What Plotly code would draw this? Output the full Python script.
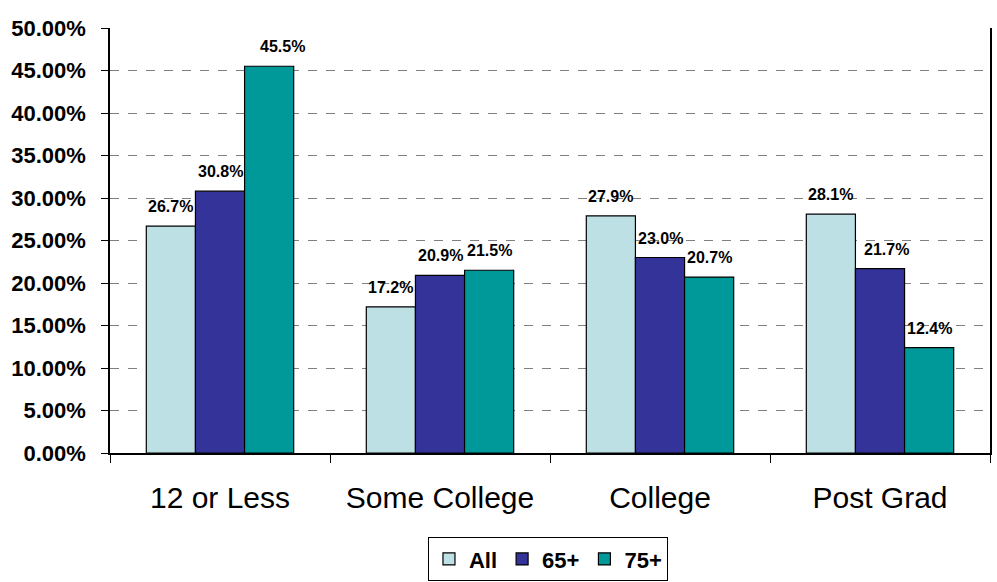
import plotly.graph_objects as go

categories = ["12 or Less", "Some College", "College", "Post Grad"]
series_names = ["All", "65+", "75+"]
all_vals = [26.7, 17.2, 27.9, 28.1]
age65_vals = [30.8, 20.9, 23.0, 21.7]
age75_vals = [45.5, 21.5, 20.7, 12.4]
colors = ["#BCE0E3", "#333399", "#009999"]
y_ticks = [0, 5, 10, 15, 20, 25, 30, 35, 40, 45, 50]

BARGAP = 0.33
series = [all_vals, age65_vals, age75_vals]
n_series = len(series)
bar_w = (1 - BARGAP) / n_series

# a couple of value labels sit nudged to the right of their bar
label_nudge = {(2, 0): 13, (1, 3): 6}

fig = go.Figure()
for name, vals, col in zip(series_names, series, colors):
    fig.add_trace(go.Bar(
        name=name,
        x=categories,
        y=vals,
        marker=dict(color=col, line=dict(color="black", width=1.2)),
    ))

# value labels above each bar, placed on the category axis
annotations = []
for s, vals in enumerate(series):
    offset = (s - (n_series - 1) / 2) * bar_w
    for c, v in enumerate(vals):
        annotations.append(dict(
            x=c + offset, y=v, xref="x", yref="y",
            text=f"{v:.1f}%", showarrow=False,
            yanchor="bottom", yshift=9,
            xshift=label_nudge.get((s, c), 0),
            font=dict(family="Arial", size=16, color="black", weight="bold"),
        ))

fig.update_layout(
    width=997, height=582,
    barmode="group",
    bargap=BARGAP,
    bargroupgap=0,
    plot_bgcolor="white",
    paper_bgcolor="white",
    margin=dict(l=110, r=7, t=28, b=129, autoexpand=False),
    font=dict(family="Arial", color="black"),
    showlegend=True,
    annotations=annotations,
    legend=dict(
        orientation="h",
        x=0.4977, xanchor="center",
        y=-0.198, yanchor="top",
        font=dict(family="Arial", size=22, color="black", weight="bold"),
        bordercolor="black", borderwidth=1,
        itemwidth=30,
        traceorder="normal",
    ),
)

fig.update_xaxes(
    type="category",
    range=[-0.5, len(categories) - 0.5],
    automargin=False,
    showline=True, linecolor="black", linewidth=1.5,
    ticks="outside", ticklen=8, tickcolor="black",
    tickson="boundaries",
    tickfont=dict(family="Arial", size=30, color="black"),
    ticklabelstandoff=17,
    showgrid=False,
)

fig.update_yaxes(
    range=[0, 50],
    automargin=False,
    tickvals=y_ticks,
    ticktext=[f"{v:.2f}%" for v in y_ticks],
    showline=True, linecolor="black", linewidth=1.5, mirror=True,
    ticks="outside", ticklen=7, tickcolor="black",
    tickfont=dict(family="Arial", size=22, color="black", weight="bold"),
    ticklabelstandoff=11,
    showgrid=True, gridcolor="#808080", gridwidth=1, griddash="dash",
    zeroline=False,
)

fig.write_html("out.html")
